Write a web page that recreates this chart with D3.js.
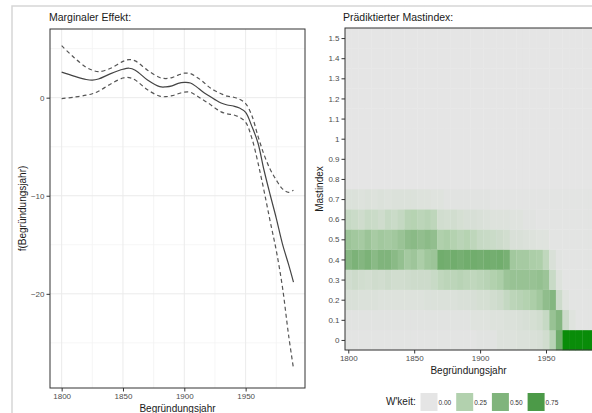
<!DOCTYPE html>
<html><head><meta charset="utf-8">
<script src="https://cdn.jsdelivr.net/npm/d3@7"></script>
<style>body{margin:0;background:#fff}svg{display:block;font-family:"Liberation Sans",Arial,sans-serif}</style>
</head><body><svg id="c" width="592" height="413"></svg>
<script>
// ---------- Left panel: marginal effect ----------
const effYears = [1800,1810,1820,1825,1830,1840,1850,1855,1860,1870,1880,1885,1890,1895,1900,1905,1910,1915,1920,1925,1930,1935,1940,1945,1950,1955,1960,1965,1970,1975,1980,1985,1989];
const effFit   = [2.6,2.2,1.85,1.78,1.9,2.45,2.9,3.0,2.8,1.8,1.12,1.1,1.2,1.45,1.55,1.5,1.1,0.6,0.2,-0.2,-0.55,-0.75,-0.85,-1.05,-1.5,-2.9,-4.6,-7.4,-9.9,-12.3,-14.9,-17.0,-18.8];
const effUpper = [5.3,4.1,3.1,2.8,2.65,3.0,3.7,3.88,3.75,2.8,2.05,1.95,2.05,2.3,2.5,2.45,2.1,1.65,1.1,0.7,0.4,0.15,0.05,-0.15,-0.6,-1.8,-3.9,-5.8,-7.3,-8.4,-9.3,-9.65,-9.45];
const effLower = [-0.1,0.05,0.25,0.4,0.65,1.4,2.0,2.05,1.8,0.8,0.15,0.1,0.2,0.4,0.57,0.55,0.2,-0.2,-0.6,-1.05,-1.45,-1.65,-1.75,-2.0,-2.5,-4.1,-6.6,-9.5,-12.6,-15.6,-19.3,-24.2,-27.6];
const leftXTicks = [1800,1850,1900,1950];
const leftXMinor = [1825,1875,1925,1975];
const leftYTicks = [0,-10,-20];
const leftYMinor = [5,-5,-15,-25];

// ---------- Right panel: predicted mast index (probabilities) ----------
const hmYears = [1800,1805,1810,1815,1820,1825,1830,1835,1840,1845,1850,1855,1860,1865,1870,1875,1880,1885,1890,1895,1900,1905,1910,1915,1920,1925,1930,1935,1940,1945,1950,1955,1960,1965,1970,1975,1980,1985,1990];
const mastLevels = [0,0.1,0.2,0.3,0.4,0.5,0.6,0.7,0.8,0.9,1.0,1.1,1.2,1.3,1.4,1.5];
const p00 = [0.01,0.01,0.01,0.01,0.01,0.01,0.01,0.01,0.01,0.01,0.01,0.01,0.01,0.01,0.01,0.01,0.01,0.01,0.01,0.01,0.02,0.02,0.02,0.04,0.04,0.04,0.05,0.05,0.06,0.07,0.1,0.22,0.58,0.97,0.97,0.97,0.97,0.97,0.97];
const p01 = [0.02,0.02,0.02,0.02,0.02,0.02,0.02,0.02,0.02,0.02,0.02,0.02,0.02,0.02,0.02,0.02,0.02,0.02,0.02,0.03,0.03,0.03,0.04,0.04,0.05,0.05,0.06,0.07,0.08,0.1,0.15,0.38,0.48,0.12,0.03,0.01,0.01,0.01,0.01];
const p02 = [0.06,0.06,0.05,0.05,0.05,0.04,0.04,0.04,0.04,0.04,0.04,0.04,0.05,0.05,0.05,0.05,0.05,0.06,0.06,0.07,0.08,0.08,0.1,0.12,0.16,0.2,0.22,0.24,0.28,0.33,0.42,0.48,0.12,0.03,0.01,0.01,0.01,0.01,0.01];
const p03 = [0.1,0.12,0.1,0.09,0.11,0.1,0.12,0.1,0.1,0.11,0.12,0.12,0.12,0.14,0.18,0.2,0.2,0.22,0.2,0.18,0.2,0.22,0.25,0.28,0.36,0.38,0.38,0.38,0.38,0.4,0.36,0.14,0.04,0.01,0.01,0.01,0.01,0.01,0.01];
const p04 = [0.47,0.52,0.48,0.52,0.45,0.5,0.5,0.45,0.4,0.32,0.35,0.28,0.34,0.36,0.57,0.56,0.57,0.55,0.57,0.57,0.56,0.57,0.56,0.57,0.54,0.33,0.31,0.31,0.28,0.27,0.18,0.06,0.02,0.01,0.01,0.01,0.01,0.01,0.01];
const p05 = [0.36,0.33,0.31,0.36,0.3,0.33,0.31,0.33,0.37,0.43,0.45,0.41,0.44,0.41,0.26,0.28,0.24,0.21,0.23,0.19,0.15,0.14,0.13,0.12,0.1,0.06,0.06,0.05,0.04,0.03,0.03,0.01,0.01,0.01,0.01,0.01,0.01,0.01,0.01];
const p06 = [0.15,0.13,0.11,0.14,0.13,0.11,0.15,0.13,0.16,0.22,0.23,0.2,0.22,0.19,0.1,0.09,0.1,0.08,0.07,0.07,0.06,0.05,0.04,0.04,0.04,0.03,0.03,0.02,0.02,0.01,0.01,0.01,0.01,0.01,0.01,0.01,0.01,0.01,0.01];
const p07 = [0.05,0.05,0.04,0.05,0.04,0.05,0.04,0.05,0.05,0.05,0.05,0.04,0.04,0.03,0.03,0.02,0.02,0.02,0.02,0.02,0.02,0.02,0.01,0.01,0.01,0.01,0.01,0.01,0.01,0.01,0.01,0.01,0.01,0.01,0.01,0.01,0.01,0.01,0.01];
const probRows = {0:p00, 1:p01, 2:p02, 3:p03, 4:p04, 5:p05, 6:p06, 7:p07};
const rightXTicks = [1800,1850,1900,1950];
const rightYTicks = [0,0.1,0.2,0.3,0.4,0.5,0.6,0.7,0.8,0.9,1.0,1.1,1.2,1.3,1.4,1.5];
const legendBreaks = [0,0.25,0.5,0.75];

const svg = d3.select("#c");
svg.append("rect").attr("width",592).attr("height",413).attr("fill","#fff");
svg.append("path").attr("d","M12,413V6H592").attr("fill","none").attr("stroke","#d6d6d6").attr("stroke-width",1.5);

// ---------- Left panel ----------
const L = {x0:50, x1:305, y0:29, y1:388};
const xL = d3.scaleLinear().domain([1790.5,1998.4]).range([L.x0,L.x1]);
const yL = d3.scaleLinear().domain([-29.6,7.0]).range([L.y1,L.y0]);
const gL = svg.append("g");
gL.append("rect").attr("x",L.x0).attr("y",L.y0).attr("width",L.x1-L.x0).attr("height",L.y1-L.y0).attr("fill","#fff");
gL.selectAll(".mx").data(leftXMinor).join("line").attr("x1",d=>xL(d)).attr("x2",d=>xL(d)).attr("y1",L.y0).attr("y2",L.y1).attr("stroke","#f2f2f2").attr("stroke-width",0.8);
gL.selectAll(".my").data(leftYMinor).join("line").attr("y1",d=>yL(d)).attr("y2",d=>yL(d)).attr("x1",L.x0).attr("x2",L.x1).attr("stroke","#f2f2f2").attr("stroke-width",0.8);
gL.selectAll(".gx").data(leftXTicks).join("line").attr("x1",d=>xL(d)).attr("x2",d=>xL(d)).attr("y1",L.y0).attr("y2",L.y1).attr("stroke","#ebebeb").attr("stroke-width",1);
gL.selectAll(".gy").data(leftYTicks).join("line").attr("y1",d=>yL(d)).attr("y2",d=>yL(d)).attr("x1",L.x0).attr("x2",L.x1).attr("stroke","#ebebeb").attr("stroke-width",1);

const curve = d3.curveCatmullRom.alpha(0.5);
const mkLine = arr => d3.line().curve(curve).x((d,i)=>xL(effYears[i])).y(d=>yL(d))(arr);
gL.append("path").attr("d",mkLine(effUpper)).attr("fill","none").attr("stroke","#555").attr("stroke-width",1.2).attr("stroke-dasharray","4,3");
gL.append("path").attr("d",mkLine(effLower)).attr("fill","none").attr("stroke","#555").attr("stroke-width",1.2).attr("stroke-dasharray","4,3");
gL.append("path").attr("d",mkLine(effFit)).attr("fill","none").attr("stroke","#444").attr("stroke-width",1.2);
gL.append("rect").attr("x",L.x0).attr("y",L.y0).attr("width",L.x1-L.x0).attr("height",L.y1-L.y0).attr("fill","none").attr("stroke","#333").attr("stroke-width",1);

function styleAxis(g){
  g.select(".domain").remove();
  g.selectAll(".tick line").attr("stroke","#333");
  g.selectAll(".tick text").attr("fill","#4d4d4d").attr("font-size","8px").attr("font-family","'Liberation Sans',Arial,sans-serif");
}
svg.append("g").attr("transform",`translate(${L.x0},0)`).call(d3.axisLeft(yL).tickValues(leftYTicks).tickSize(3.5).tickPadding(2).tickFormat(d3.format("d"))).call(styleAxis);
svg.append("g").attr("transform",`translate(0,${L.y1})`).call(d3.axisBottom(xL).tickValues(leftXTicks).tickSize(3.5).tickPadding(2).tickFormat(d3.format("d"))).call(styleAxis);

svg.append("text").attr("x",49).attr("y",21).attr("font-size","10.5px").attr("fill","#1a1a1a").text("Marginaler Effekt:");
svg.append("text").attr("x",(L.x0+L.x1)/2).attr("y",412).attr("text-anchor","middle").attr("font-size","10px").attr("fill","#1a1a1a").text("Begründungsjahr");
svg.append("text").attr("transform",`translate(26,${(L.y0+L.y1)/2}) rotate(-90)`).attr("text-anchor","middle").attr("font-size","10px").attr("fill","#1a1a1a").text("f(Begründungsjahr)");

// ---------- Right panel ----------
const R = {x0:345, y0:28, y1:350};
const xR = d3.scaleLinear().domain([1797.5,1992.5]).range([R.x0, R.x0+195*1.318]);
const yR = d3.scaleLinear().domain([-0.05,1.55]).range([R.y1,R.y0]);
const color = d3.scaleLinear().domain([0,0.25,0.5,0.75,1]).range(["#e5e5e5","#b2d1ae","#80b47c","#4c9a48","#008a00"]).clamp(true);

const cells = [];
mastLevels.forEach((m,ri)=>{
  hmYears.forEach((yr,ci)=>{
    const row = probRows[ri];
    cells.push({yr, m, p: row ? row[ci] : 0});
  });
});
const gR = svg.append("g");
gR.selectAll("rect.tile").data(cells).join("rect").attr("class","tile")
  .attr("x",d=>xR(d.yr-2.5)).attr("width",d=>xR(d.yr+2.5)-xR(d.yr-2.5)+0.3)
  .attr("y",d=>yR(d.m+0.05)).attr("height",d=>yR(d.m-0.05)-yR(d.m+0.05)+0.3)
  .attr("fill",d=>color(d.p));
gR.append("rect").attr("x",R.x0).attr("y",R.y0).attr("width",xR(1992.5)-R.x0).attr("height",R.y1-R.y0).attr("fill","none").attr("stroke","#333").attr("stroke-width",1);

svg.append("g").attr("transform",`translate(${R.x0},0)`).call(d3.axisLeft(yR).tickValues(rightYTicks).tickSize(3.5).tickPadding(2).tickFormat(d=>d3.format("~g")(+d.toFixed(1)))).call(styleAxis);
svg.append("g").attr("transform",`translate(0,${R.y1})`).call(d3.axisBottom(xR).tickValues(rightXTicks).tickSize(3.5).tickPadding(2).tickFormat(d3.format("d"))).call(styleAxis);

svg.append("text").attr("x",343).attr("y",21).attr("font-size","10.5px").attr("fill","#1a1a1a").text("Prädiktierter Mastindex:");
svg.append("text").attr("x",(R.x0+xR(1992.5))/2-5).attr("y",374).attr("text-anchor","middle").attr("font-size","10px").attr("fill","#1a1a1a").text("Begründungsjahr");
svg.append("text").attr("transform",`translate(323,${(R.y0+R.y1)/2}) rotate(-90)`).attr("text-anchor","middle").attr("font-size","10px").attr("fill","#1a1a1a").text("Mastindex");

// ---------- Legend ----------
svg.append("text").attr("x",386).attr("y",405).attr("font-size","10px").attr("fill","#1a1a1a").text("W'keit:");
const lg = svg.append("g").selectAll("g").data(legendBreaks).join("g").attr("transform",(d,i)=>`translate(${420.5+i*35.7},393)`);
lg.append("rect").attr("width",17).attr("height",18).attr("fill",d=>color(d));
lg.append("text").attr("x",18).attr("y",11.5).attr("font-size","6.5px").attr("fill","#333").text(d=>d3.format(".2f")(d));
</script></body></html>
